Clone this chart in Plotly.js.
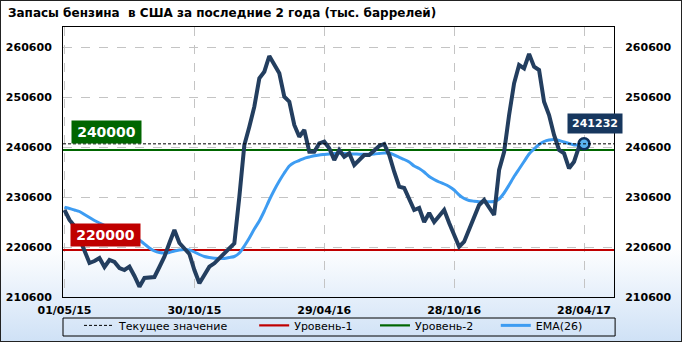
<!DOCTYPE html>
<html>
<head>
<meta charset="utf-8">
<script src="https://cdn.plot.ly/plotly-3.0.1.min.js"></script>
<style>
html,body{margin:0;padding:0;background:#fff;}
#wrap{position:relative;width:682px;height:342px;background:linear-gradient(to bottom,#ffffff 0%,#ffffff 72%,#cfe1f6 100%);}
#chart{position:absolute;left:0;top:0;width:682px;height:342px;}
#frame{position:absolute;left:0;top:0;width:682px;height:342px;box-sizing:border-box;border:1px solid #222;pointer-events:none;}
</style>
</head>
<body>
<div id="wrap"><div id="chart"></div><div id="frame"></div></div>
<script>
// Weekly US gasoline stocks (thousand barrels), from 01/05/2015, one value per week
const startDate = '2015-05-01';
const stocks = [228000, 226000, 224800, 222400, 220000, 217400, 217800, 218400, 216600, 218000,
  217600, 216400, 216000, 216660, 214800, 212660, 214400, 214400, 214600, 216600,
  218660, 221400, 224000, 221400, 220200, 219200, 216000, 213340, 215000, 216660,
  217340, 218400, 219340, 220400, 221340, 230660, 241000, 244660, 248660, 254340,
  255660, 258800, 257000, 255340, 250660, 249660, 245000, 242660, 244000, 239660,
  239660, 241340, 241660, 240340, 238000, 240000, 238660, 239340, 237000, 238000,
  239000, 239000, 240000, 240800, 241200, 239000, 235660, 232660, 232400, 230000,
  228000, 228400, 225600, 227400, 225600, 226800, 228000, 225400, 222800, 220660,
  221660, 224260, 226400, 229000, 230000, 228660, 227000, 236000, 239600, 247000,
  253340, 257000, 256340, 259200, 256660, 256000, 249660, 247000, 243000, 240000,
  239340, 236340, 237660, 240660, 241232];
const ema26 = [228540, 228300, 228000, 227700, 227100, 226500, 225900, 225400, 224940, 224700,
  224460, 224200, 223800, 223400, 222700, 222000, 221200, 220400, 219800, 219500,
  219400, 219500, 219800, 220000, 220100, 220000, 219600, 219100, 218700, 218500,
  218340, 218300, 218300, 218500, 218700, 219400, 220800, 222400, 224200, 225800,
  227800, 230000, 232000, 233800, 235400, 236800, 237500, 237900, 238340, 238600,
  238860, 239000, 239100, 239200, 239300, 239340, 239300, 239240, 239200, 239160,
  239140, 239140, 239200, 239300, 239400, 239400, 239000, 238540, 238100, 237600,
  236800, 236300, 235600, 234700, 234100, 233600, 233200, 232700, 232000, 231000,
  230300, 229900, 229760, 229660, 229660, 229660, 229700, 230200, 231400, 233000,
  234700, 236200, 237700, 239200, 240200, 241100, 241700, 242000, 242100, 241900,
  241600, 241300, 241000, 241000, 241140];
const level1 = 220000;
const level2 = 240000;
const tickDates = ['2015-05-01', '2015-10-30', '2016-04-29', '2016-10-28', '2017-04-28'];
const tickLabels = ['01/05/15', '30/10/15', '29/04/16', '28/10/16', '28/04/17'];
const yTicks = [210600, 220600, 230600, 240600, 250600, 260600];
const legendNames = ['Текущее значение', 'Уровень-1', 'Уровень-2', 'EMA(26)'];
const titleText = 'Запасы бензина  в США за последние 2 года (тыс. баррелей)';

const t0 = Date.UTC(2015, 4, 1);
const dates = stocks.map((_, i) => new Date(t0 + i * 7 * 864e5).toISOString().slice(0, 10));
const current = stocks[stocks.length - 1];
const lastDate = dates[dates.length - 1];
const xRange = ['2015-04-28 21:30', '2017-06-09'];
const yRange = [210600, 264600];

const NB = '\u00a0';
const pad = (s, n) => s + NB.repeat(n);
const FONT = 'DejaVu Sans';
const traces = [
  {x: xRange, y: [current, current], mode: 'lines', name: pad(legendNames[0], 6), yaxis: 'y2',
   line: {color: '#000', width: 1, dash: '3px,2px'}, legendrank: 1, hoverinfo: 'skip'},
  {x: xRange, y: [level1, level1], mode: 'lines', name: pad(legendNames[1], 5),
   line: {color: '#c00000', width: 2.2}, legendrank: 2, hoverinfo: 'skip'},
  {x: xRange, y: [level2, level2], mode: 'lines', name: pad(legendNames[2], 5),
   line: {color: '#006600', width: 2.2}, legendrank: 3, hoverinfo: 'skip'},
  {x: dates, y: ema26, mode: 'lines', name: pad(legendNames[3], 3),
   line: {color: '#3d9cf2', width: 3, shape: 'spline', smoothing: 0.6}, legendrank: 4},
  {x: dates, y: stocks, mode: 'lines', showlegend: false,
   line: {color: '#233e5f', width: 4}},
  {x: [lastDate], y: [current], mode: 'markers', showlegend: false, cliponaxis: false,
   marker: {size: 11, color: '#5ab4f0', line: {color: '#10305a', width: 2.5}}}
];

const layout = {
  width: 682, height: 342,
  margin: {l: 63, r: 68, t: 27, b: 45},
  paper_bgcolor: 'rgba(0,0,0,0)', plot_bgcolor: 'rgba(0,0,0,0)',
  font: {family: FONT, size: 11, color: '#000'},
  title: {text: titleText, xref: 'container', yref: 'container', x: 0.0117, xanchor: 'left',
          y: 0.962, yanchor: 'middle', font: {family: FONT, size: 12, color: '#000', weight: 'bold'}},
  showlegend: true,
  legend: {orientation: 'h', xref: 'paper', x: 0.5, xanchor: 'center',
           yref: 'container', y: 0.091, yanchor: 'top',
           borderwidth: 0, bgcolor: 'rgba(0,0,0,0)',
           font: {family: FONT, size: 11, color: '#000'}, itemwidth: 30, tracegroupgap: 0},
  shapes: [
    {type: 'rect', xref: 'paper', yref: 'paper', x0: 0, x1: 1.002, y0: -39 / 270, y1: -21 / 270,
     line: {color: '#000', width: 1}, fillcolor: 'rgba(0,0,0,0)', layer: 'above'}
  ],
  xaxis: {type: 'date', range: xRange, tickvals: tickDates, ticktext: tickLabels,
          showgrid: true, gridcolor: '#c4c4c4', griddash: 'dash', gridwidth: 1,
          showline: true, linecolor: '#000', linewidth: 1, mirror: true, zeroline: false,
          ticks: 'outside', ticklen: 3, tickcolor: 'rgba(0,0,0,0)',
          tickfont: {family: FONT, size: 11, color: '#000', weight: 'bold'}},
  yaxis: {range: yRange, tickvals: yTicks, tickformat: 'd',
          showgrid: true, gridcolor: '#c4c4c4', griddash: 'dash', gridwidth: 1,
          showline: true, linecolor: '#000', linewidth: 1, mirror: true, zeroline: false,
          ticks: 'outside', ticklen: 8, tickcolor: 'rgba(0,0,0,0)',
          tickfont: {family: FONT, size: 11, color: '#000', weight: 'bold'}},
  yaxis2: {range: yRange, tickvals: yTicks, tickformat: 'd', overlaying: 'y', side: 'right',
           showgrid: false, zeroline: false, showline: false,
           ticks: 'outside', ticklen: 8, tickcolor: 'rgba(0,0,0,0)',
           tickfont: {family: FONT, size: 11, color: '#000', weight: 'bold'}},
  annotations: [
    {text: String(level2), xref: 'paper', x: 0.0145, xanchor: 'left', yref: 'y', y: 243600, yanchor: 'middle',
     showarrow: false, bgcolor: '#006600', width: 67, height: 20, borderpad: 1,
     font: {family: FONT, size: 14, color: '#fff', weight: 'bold'}},
    {text: String(level1), xref: 'paper', x: 0.0127, xanchor: 'left', yref: 'y', y: 223000, yanchor: 'middle',
     showarrow: false, bgcolor: '#c00000', width: 67, height: 20, borderpad: 1,
     font: {family: FONT, size: 14, color: '#fff', weight: 'bold'}},
    {text: String(current), xref: 'paper', x: 0.9147, xanchor: 'left', yref: 'y', y: 245300, yanchor: 'middle',
     showarrow: false, bgcolor: '#17375e', width: 52, height: 17, borderpad: 1,
     font: {family: FONT, size: 11, color: '#fff', weight: 'bold'}}
  ]
};

Plotly.newPlot('chart', traces, layout, {staticPlot: true, displayModeBar: false});
</script>
</body>
</html>
